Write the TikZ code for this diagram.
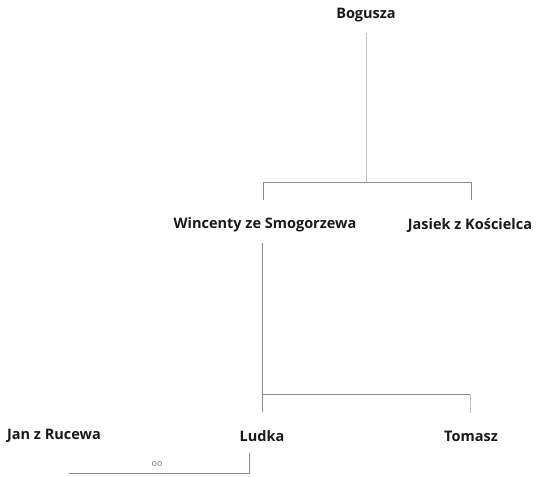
\documentclass[tikz,border=0pt]{standalone}
\usepackage{fontspec}
\setmainfont{Open Sans}
\begin{document}
\begin{tikzpicture}[x=1pt,y=-1pt,
  person/.style={font=\bfseries\fontsize{14.5}{16}\selectfont, text=black!90, inner sep=0pt, anchor=center},
  link/.style={draw=black!45, line width=0.9pt},
  softlink/.style={draw=black!25, line width=0.9pt}]
\useasboundingbox (0,0) rectangle (536,477);
% people
\node[person] (bog) at (366,15) {Bogusza};
\node[person] (win) at (265,225) {Wincenty ze Smogorzewa};
\node[person] (jas) at (470,225) {Jasiek z Kościelca};
\node[person] (jan) at (54,436) {Jan z Rucewa};
\node[person] (lud) at (262,436) {Ludka};
\node[person] (tom) at (471,436) {Tomasz};
% junction points
\coordinate (j1) at (366,182);
\coordinate (j1w) at (263,182);
\coordinate (j1j) at (471,182);
\coordinate (j2) at (262,394);
\coordinate (j2t) at (470,394);
\coordinate (m1) at (69,473);
\coordinate (m2) at (249,473);
% Bogusza's children
\draw[softlink] (366,33) -- (j1);
\draw[link] (j1w) -- (j1j);
\draw[link] (j1w) -- (263,200);
\draw[link] (j1j) -- (471,200);
% Wincenty's children
\draw[link] (262,243) -- (262,412);
\draw[link] (j2) -- (j2t);
\draw[softlink] (j2t) -- (470,413);
% marriage of Jan and Ludka
\draw[link] (m1) -- (m2) -- (249,453);
\node[font=\fontsize{9}{10}\selectfont, text=black!55, inner sep=0pt] (oo) at (157,464) {oo};
\end{tikzpicture}
\end{document}
